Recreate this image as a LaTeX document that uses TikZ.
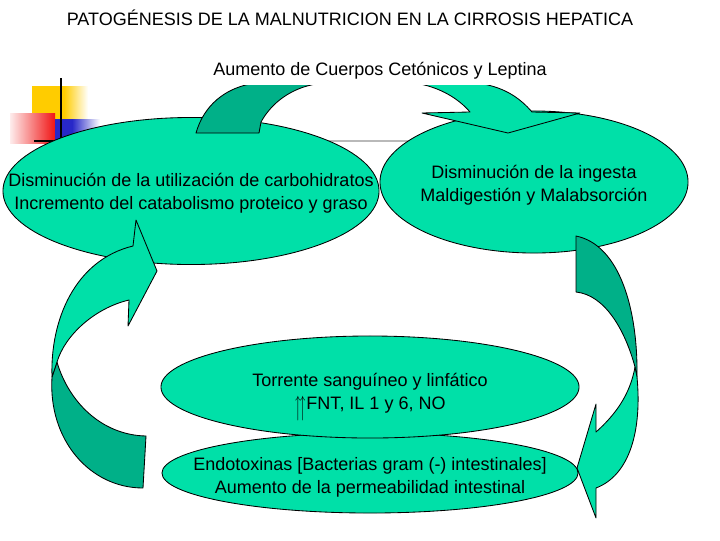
\documentclass[tikz,border=0pt]{standalone}
\usepackage{fontspec}
\setmainfont{Liberation Sans}
\usepackage{amssymb}
\usetikzlibrary{shapes.geometric}
\definecolor{verdecl}{RGB}{0,224,168}
\definecolor{verdeos}{RGB}{0,176,136}
\definecolor{amarillo}{RGB}{255,204,0}
\definecolor{rojo}{RGB}{240,20,20}
\definecolor{azul}{RGB}{40,40,200}
\begin{document}
\begin{tikzpicture}[x=0.025cm, y=-0.025cm,
    every node/.style={font=\fontsize{12.8}{16.3}\selectfont},
    blob/.style={ellipse, draw=black, fill=verdecl, line width=0.6pt, inner sep=0pt},
    txt/.style={align=center, inner sep=1pt},
    arwc/.style={fill=verdecl, draw=black, line width=0.6pt, line join=round},
    arwo/.style={fill=verdeos, draw=black, line width=0.6pt, line join=round}
  ]
  \useasboundingbox (0,0) rectangle (720,540);
  % adorno de la plantilla
  \fill[amarillo] (32,86) rectangle (64,119);
  \shade[left color=amarillo, right color=white] (64,86) rectangle (88,119);
  \shade[left color=rojo!8, right color=rojo] (10,113) rectangle (55,143);
  \fill[azul] (55,119) rectangle (72,143);
  \shade[left color=azul, right color=white] (72,119) rectangle (100,143);
  \draw[gray!55, line width=2pt] (34,141) -- (620,141);
  \draw[black, line width=2pt] (34,141) -- (64,141);
  \draw[black, line width=2pt] (61,78) -- (61,146);
  % elipses
  \node[blob, minimum width=9.4cm, minimum height=3.675cm] (util) at (191,191) {};
  \node[blob, minimum width=7.7cm, minimum height=3.55cm] (ingesta) at (534,182) {};
  \node[blob, minimum width=10.4cm, minimum height=2cm] (endo) at (370,473) {};
  \node[blob, minimum width=10.45cm, minimum height=2.55cm] (torrente) at (370,387) {};
  % flechas curvas
  \draw[arwo] (259,133) -- (261,122) .. controls (272,102) and (292,88) .. (316,84) -- (316,78) -- (250,78) -- (250,84)
    .. controls (225,89) and (204,105) .. (196,133) -- cycle;
  \draw[arwc] (420,78) -- (420,84) .. controls (440,88) and (458,98) .. (470,112) -- (422,113) -- (508,133) -- (580,113)
    -- (532,112) .. controls (520,98) and (505,88) .. (483,84) -- (483,78) -- cycle;
  \draw[arwo] (576,236) .. controls (620,245) and (638,310) .. (637,377) -- (635,367)
    .. controls (625,330) and (605,295) .. (576,292) -- cycle;
  \draw[arwc] (637,377) .. controls (642,430) and (630,475) .. (596,488) -- (596,518) -- (577,468) -- (596,404)
    -- (596,432) .. controls (615,415) and (630,395) .. (635,367) -- cycle;
  \draw[arwo] (52,377) .. controls (48,440) and (90,488) .. (143,488) -- (146,436)
    .. controls (100,435) and (68,400) .. (57,362) -- cycle;
  \draw[arwc] (52,377) .. controls (50,320) and (75,260) .. (133,246) -- (136,220) -- (157,271) -- (128,326)
    -- (129,300) .. controls (95,308) and (65,335) .. (57,362) -- cycle;
  % textos
  \node[fill=white, minimum height=0.68cm, inner xsep=4pt] (aumento) at (380,71) {Aumento de Cuerpos Cetónicos y Leptina};
  \node (titulo) at (350,18) {PATOGÉNESIS DE LA MALNUTRICION EN LA CIRROSIS HEPATICA};
  \node[txt, yshift=-1.5pt] (util-t) at (util) {Disminución de la utilización de carbohidratos\\Incremento del catabolismo proteico y graso};
  \node[txt, yshift=-2pt] (ingesta-t) at (ingesta) {Disminución de la ingesta\\Maldigestión y Malabsorción};
  \node[txt, yshift=-7.3pt] (torrente-t) at (torrente) {Torrente sanguíneo y linfático\\\raisebox{-4.5pt}{\scalebox{0.8}[1.55]{$\upuparrows$}}FNT, IL 1 y 6, NO\hspace{10pt}};
  \node[txt, yshift=-3pt] (endo-t) at (endo) {Endotoxinas [Bacterias gram (-) intestinales]\\Aumento de la permeabilidad intestinal};
\end{tikzpicture}
\end{document}
